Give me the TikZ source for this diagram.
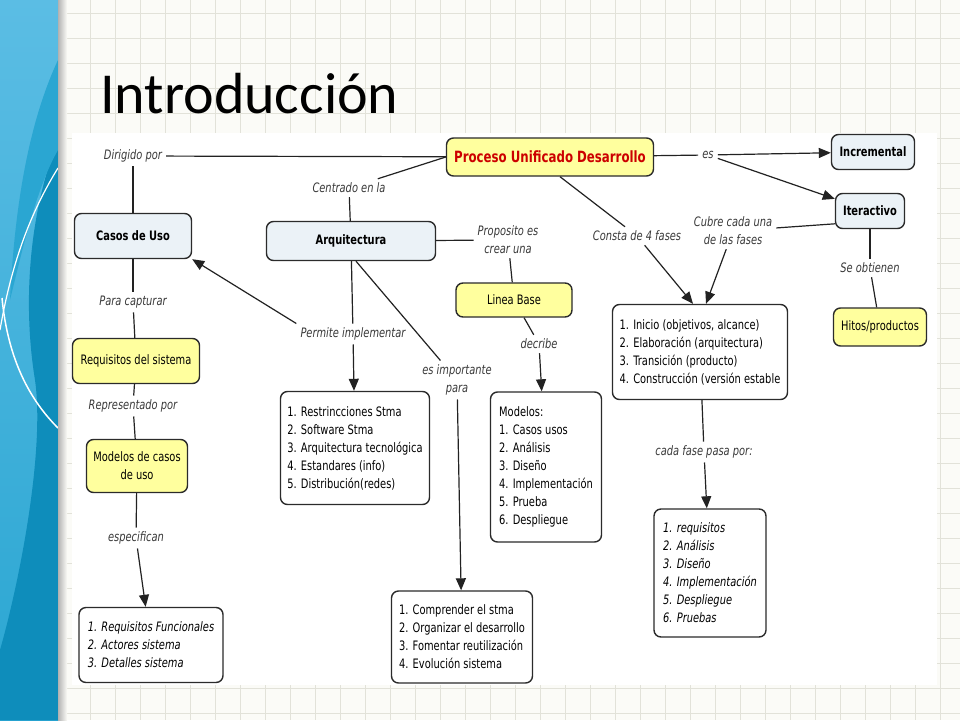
\documentclass[tikz,border=0pt]{standalone}
\usepackage{fontspec}
\usetikzlibrary{arrows.meta,calc,positioning}
\newfontfamily\cmapfont{DejaVu Sans}[FakeStretch=0.76]
\newfontfamily\titlefont{Carlito}
\definecolor{conceptyellow}{HTML}{FFFF9E}
\definecolor{paleblue}{HTML}{EBF2F7}
\definecolor{boxline}{HTML}{2B2B2B}
\definecolor{lineclr}{HTML}{222222}
\definecolor{pudred}{HTML}{CC0000}
\definecolor{linktext}{HTML}{3A3A3A}
\definecolor{slidebg}{HTML}{FBFBF7}
\definecolor{gridclr}{HTML}{E2E2D9}
\definecolor{bandlight}{HTML}{5BBDE4}
\definecolor{bandmid}{HTML}{2AA6D2}
\definecolor{banddark}{HTML}{0E8DBB}
\tikzset{%
        >={Triangle[length=12pt,width=10pt]},
        shorten >=0pt
}
\tikzstyle{concept}=[
    draw = boxline,
    line width = 1.4pt,
    rounded corners = 7pt,
    inner sep = 5pt,
    font = \cmapfont\fontsize{13}{18}\selectfont
]
\tikzstyle{yel}=[concept, fill = conceptyellow]
\tikzstyle{pale}=[concept, fill = paleblue,
    font = \cmapfont\bfseries\fontsize{13}{18}\selectfont]
\tikzstyle{listbox}=[concept, fill = white, align = left]
\tikzstyle{link}=[
    inner sep = 4pt,
    text = linktext,
    align = center,
    font = \cmapfont\itshape\fontsize{13}{18}\selectfont
]
\tikzstyle{every edge}=[
    draw = lineclr,
    line width = 1.2pt
]
\begin{document}
\begin{tikzpicture}[x=1pt, y=-1pt]
    \useasboundingbox (0,0) rectangle (960,720);
    % slide background
    \fill[slidebg] (0,0) rectangle (960,720);
    \foreach \gx in {65,90,...,940} \draw[gridclr, line width=0.7pt] (\gx,0) -- (\gx,720);
    \foreach \gy in {13,38,...,713} \draw[gridclr, line width=0.7pt] (58,\gy) -- (960,\gy);
    \shade[top color=bandlight, bottom color=bandmid] (0,0) rectangle (58,720);
    \fill[banddark] (58,140) .. controls (30,210) and (22,300) .. (35,380)
        .. controls (45,450) and (20,580) .. (0,650) -- (0,720) -- (58,720) -- cycle;
    \fill[bandmid] (58,60) .. controls (30,120) and (15,200) .. (10,300)
        .. controls (20,260) and (35,190) .. (58,150) -- cycle;
    \draw[white, line width=1.2pt] (58,168) .. controls (32,210) and (12,260) .. (0,330);
    \draw[white, line width=1.5pt] (2,298) .. controls (8,360) and (30,400) .. (58,428);
    \shade[left color=black!30, right color=slidebg] (58,0) rectangle (67,720);
    % title
    \node[anchor=base west, inner sep=0pt, font=\titlefont\fontsize{58}{60}\selectfont] (titulo) at (100,113) {Introducción};
    % map area
    \fill[white] (72,133) rectangle (937,685);

    % concepts
    \node[yel, minimum width=207pt, minimum height=38pt, text=pudred,
        font=\cmapfont\bfseries\fontsize{15.5}{18}\selectfont] (pud) at (550,157) {Proceso Unificado Desarrollo};
    \node[pale, minimum width=83pt, minimum height=35pt] (inc) at (873,152) {Incremental};
    \node[pale, minimum width=69pt, minimum height=35pt] (ite) at (870,211) {Iteractivo};
    \node[yel, minimum width=93pt, minimum height=38pt] (hitos) at (880,327) {Hitos/productos};
    \node[listbox, minimum width=175pt, minimum height=95pt] (fases) at (700,352)
        {1. Inicio (objetivos, alcance)\\2. Elaboración (arquitectura)\\3. Transición (producto)\\4. Construcción (versión estable};
    \node[yel, minimum width=116pt, minimum height=34pt] (linea) at (514,300) {Linea Base};
    \node[pale, minimum width=169pt, minimum height=39pt] (arq) at (351,241) {Arquitectura};
    \node[pale, minimum width=117pt, minimum height=45pt] (casos) at (133,236) {Casos de Uso};
    \node[listbox, minimum width=149pt, minimum height=113pt] (restr) at (355,448)
        {1. Restrincciones Stma\\2. Software Stma\\3. Arquitectura tecnológica\\4. Estandares (info)\\5. Distribución(redes)};
    \node[listbox, minimum width=111pt, minimum height=150pt] (modelos) at (546,467)
        {Modelos:\\1. Casos usos\\2. Análisis\\3. Diseño\\4. Implementación\\5. Prueba\\6. Despliegue};
    \node[yel, minimum width=127pt, minimum height=45pt] (req) at (136,361) {Requisitos del sistema};
    \node[yel, minimum width=101pt, minimum height=53pt, align=center] (mcu) at (137,466) {Modelos de casos\\de uso};
    \node[listbox, minimum width=144pt, minimum height=75pt,
        font=\cmapfont\itshape\fontsize{13}{18}\selectfont] (reqf) at (151,645)
        {1. Requisitos Funcionales\\2. Actores sistema\\3. Detalles sistema};
    \node[listbox, minimum width=141pt, minimum height=92pt] (compr) at (462,637)
        {1. Comprender el stma\\2. Organizar el desarrollo\\3. Fomentar reutilización\\4. Evolución sistema};
    \node[listbox, minimum width=112pt, minimum height=128pt,
        font=\cmapfont\itshape\fontsize{13}{18}\selectfont] (pasos) at (710,573)
        {1. requisitos\\2. Análisis\\3. Diseño\\4. Implementación\\5. Despliegue\\6. Pruebas};

    % linking phrases
    \node[link] (dirig) at (133,156) {Dirigido por};
    \node[link] (centr) at (349,188) {Centrado en la};
    \node[link] (es) at (708,155) {es};
    \node[link] (prop) at (508,240) {Proposito es\\crear una};
    \node[link] (consta) at (637,236) {Consta de 4 fases};
    \node[link] (cubre) at (733,231) {Cubre cada una\\de las fases};
    \node[link] (obt) at (870,268) {Se obtienen};
    \node[link] (decr) at (539,344) {decribe};
    \node[link] (impor) at (457,380) {es importante\\para};
    \node[link] (perm) at (353,334) {Permite implementar};
    \node[link] (capt) at (133,302) {Para capturar};
    \node[link] (repr) at (133,406) {Representado por};
    \node[link] (espec) at (136,538) {especifican};
    \node[link] (cada) at (704,452) {cada fase pasa por:};

    \path
    (pud) edge (dirig)
    (dirig) edge (casos)
    (pud.west) edge (centr)
    (centr) edge (arq)
    (pud) edge (es)
    (es) edge[->] (inc)
    (es) edge[->] (ite)
    (ite.200) edge (cubre)
    (cubre) edge[->] ([xshift=6pt]fases.north)
    ([xshift=10pt]pud.south) edge (consta)
    (consta) edge[->] ([xshift=-7pt]fases.north)
    (ite) edge (obt)
    (obt) edge (hitos)
    (arq) edge (prop)
    (prop) edge (linea)
    (linea) edge (decr)
    (decr) edge[->] (modelos)
    (arq) edge (perm)
    (perm) edge[->] (restr)
    (perm.north west) edge[->] (casos.south east)
    ([xshift=5pt]arq.south) edge (impor)
    (impor) edge[->] (compr)
    (casos) edge (capt)
    (capt) edge (req)
    (req) edge (repr)
    (repr) edge (mcu)
    (mcu) edge (espec)
    (espec) edge[->] (reqf)
    (fases) edge (cada)
    (cada) edge[->] (pasos)
    ;
\end{tikzpicture}
\end{document}
